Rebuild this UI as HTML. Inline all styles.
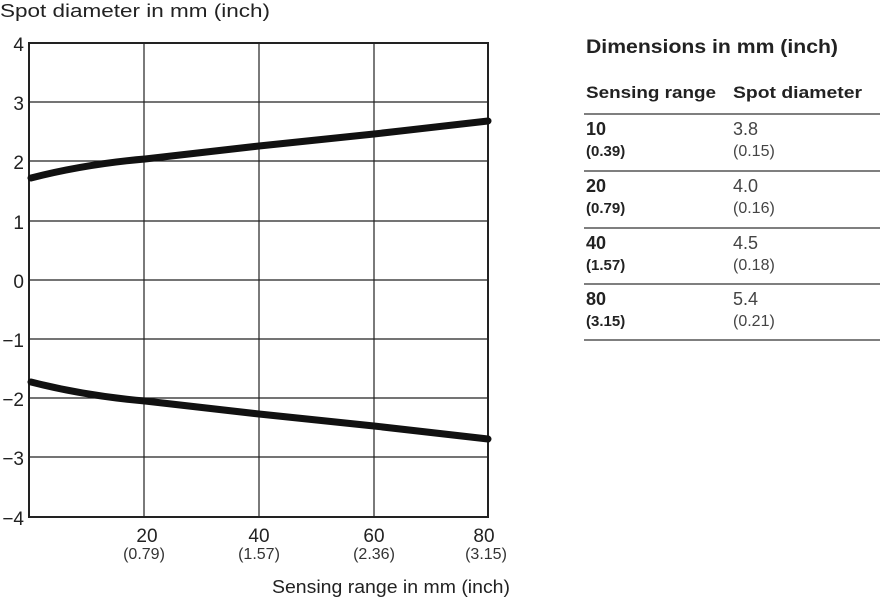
<!DOCTYPE html>
<html><head><style>
body{margin:0;background:#fff;width:880px;height:600px;overflow:hidden;font-family:"Liberation Sans",sans-serif;}
</style></head><body>
<svg width="880" height="600" xmlns="http://www.w3.org/2000/svg" font-family="Liberation Sans, sans-serif">
<text x="0" y="17" font-size="18" fill="#222" textLength="270" lengthAdjust="spacingAndGlyphs">Spot diameter in mm (inch)</text>
<g stroke="#222" stroke-width="1.2">
<line x1="144" y1="43" x2="144" y2="517"/><line x1="259" y1="43" x2="259" y2="517"/><line x1="374" y1="43" x2="374" y2="517"/>
<line x1="29" y1="102" x2="488" y2="102"/><line x1="29" y1="161" x2="488" y2="161"/><line x1="29" y1="221" x2="488" y2="221"/>
<line x1="29" y1="280" x2="488" y2="280"/><line x1="29" y1="339" x2="488" y2="339"/><line x1="29" y1="398" x2="488" y2="398"/><line x1="29" y1="457" x2="488" y2="457"/>
</g>
<rect x="29" y="43" width="459" height="474" fill="none" stroke="#222" stroke-width="2"/>
<g font-size="19" fill="#222" text-anchor="end">
<text x="24" y="51">4</text><text x="24" y="110">3</text><text x="24" y="169">2</text><text x="24" y="229">1</text><text x="24" y="288">0</text>
<text x="24" y="347">−1</text><text x="24" y="406">−2</text><text x="24" y="465">−3</text><text x="24" y="525">−4</text>
</g>
<g fill="none" stroke="#111" stroke-width="7" stroke-linecap="round">
<path d="M31 178 C70 168,110 162,145 159 L259 146 L374 134 L488 121"/>
<path d="M31 382 C70 392,110 398,145 401 L259 414 L374 426 L488 439"/>
</g>
<g font-size="19" fill="#222" text-anchor="middle">
<text x="147" y="542">20</text><text x="259" y="542">40</text><text x="374" y="542">60</text><text x="484" y="542">80</text>
</g>
<g font-size="16" fill="#333" text-anchor="middle">
<text x="144" y="559">(0.79)</text><text x="259" y="559">(1.57)</text><text x="374" y="559">(2.36)</text><text x="486" y="559">(3.15)</text>
</g>
<text x="272" y="593" font-size="18" fill="#222" textLength="238" lengthAdjust="spacingAndGlyphs">Sensing range in mm (inch)</text>

<text x="586" y="53" font-size="19" font-weight="bold" fill="#222" textLength="252" lengthAdjust="spacingAndGlyphs">Dimensions in mm (inch)</text>
<text x="586" y="98" font-size="17" font-weight="bold" fill="#222" textLength="130" lengthAdjust="spacingAndGlyphs">Sensing range</text>
<text x="733" y="98" font-size="17" font-weight="bold" fill="#222" textLength="129" lengthAdjust="spacingAndGlyphs">Spot diameter</text>
<g stroke="#555" stroke-width="1.5">
<line x1="584" y1="114" x2="880" y2="114"/><line x1="584" y1="171" x2="880" y2="171"/><line x1="584" y1="228" x2="880" y2="228"/><line x1="584" y1="284" x2="880" y2="284"/><line x1="584" y1="340" x2="880" y2="340"/>
</g>
<g fill="#222" font-weight="bold">
<text x="586" y="135" font-size="18">10</text><text x="586" y="156" font-size="15">(0.39)</text>
<text x="586" y="192" font-size="18">20</text><text x="586" y="213" font-size="15">(0.79)</text>
<text x="586" y="249" font-size="18">40</text><text x="586" y="270" font-size="15">(1.57)</text>
<text x="586" y="305" font-size="18">80</text><text x="586" y="326" font-size="15">(3.15)</text>
</g>
<g fill="#444">
<text x="733" y="135" font-size="18">3.8</text><text x="733" y="156" font-size="16">(0.15)</text>
<text x="733" y="192" font-size="18">4.0</text><text x="733" y="213" font-size="16">(0.16)</text>
<text x="733" y="249" font-size="18">4.5</text><text x="733" y="270" font-size="16">(0.18)</text>
<text x="733" y="305" font-size="18">5.4</text><text x="733" y="326" font-size="16">(0.21)</text>
</g>
</svg>
</body></html>
